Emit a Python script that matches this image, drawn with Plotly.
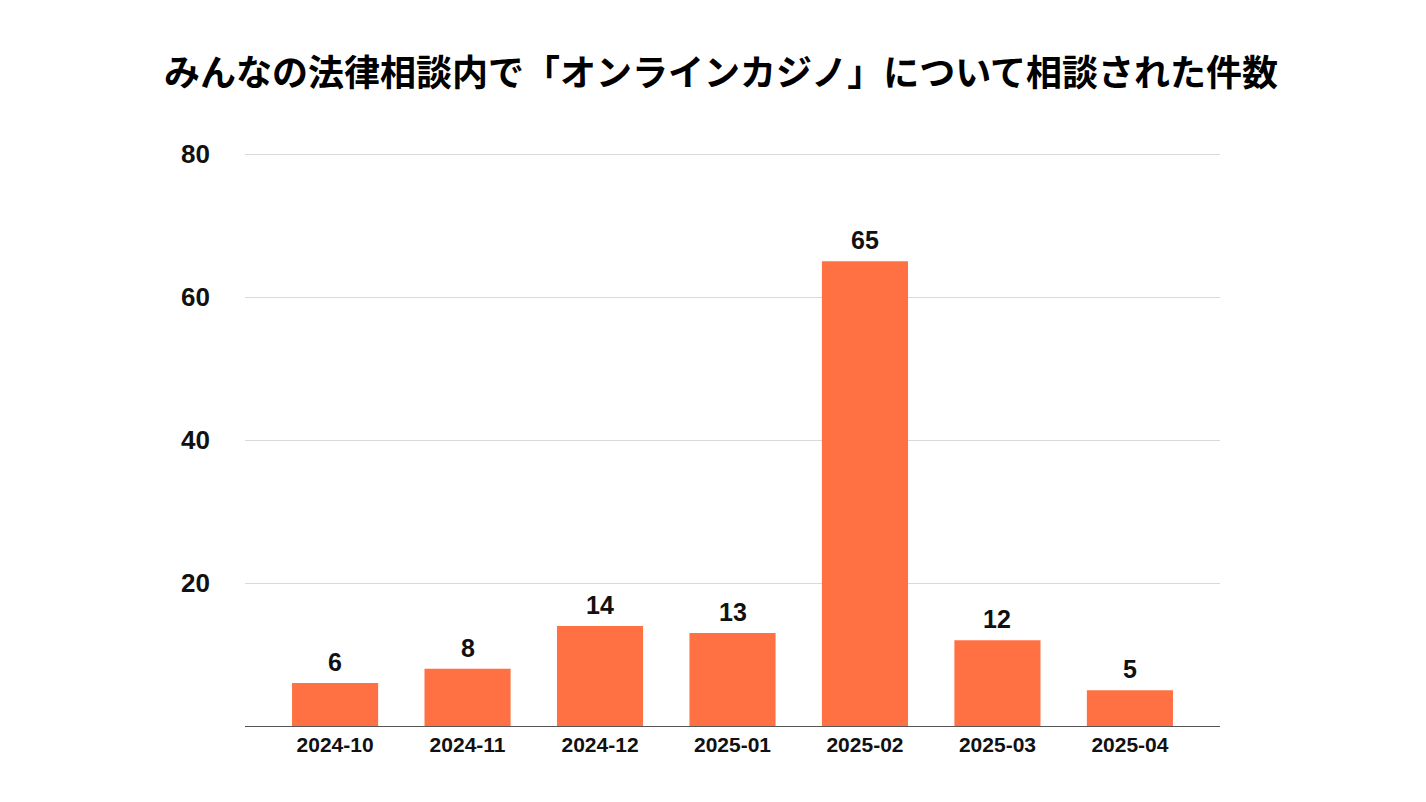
import plotly.graph_objects as go

categories = ["2024-10", "2024-11", "2024-12", "2025-01", "2025-02", "2025-03", "2025-04"]
counts = [6, 8, 14, 13, 65, 12, 5]
y_ticks = [20, 40, 60, 80]
title_text = "みんなの法律相談内で「オンラインカジノ」について相談された件数"

fig = go.Figure(go.Bar(
    x=categories, y=counts,
    marker=dict(color="#FF7043", line=dict(width=0)),
    width=0.65,
    hoverinfo="x+y",
))

for c, v in zip(categories, counts):
    fig.add_annotation(
        x=c, y=v, text="<b>%d</b>" % v, showarrow=False,
        xanchor="center", yanchor="bottom", yshift=5,
        font=dict(family="Liberation Sans, Arial, sans-serif", size=25, color="#111111"),
    )

fig.update_layout(
    width=1426, height=802,
    paper_bgcolor="white", plot_bgcolor="white",
    margin=dict(l=237, r=214, t=139, b=84),
    title=dict(text="<b>" + title_text + "</b>", x=0.5, xanchor="center", y=0.919, yanchor="middle",
               font=dict(family="Noto Sans CJK JP, sans-serif", size=36, color="#000000")),
    showlegend=False,
)
fig.update_xaxes(
    type="category", range=[-0.68, 6.68], showgrid=False, showline=True,
    linecolor="#555555", linewidth=1.2,
    ticks="", tickfont=dict(family="Liberation Sans, Arial, sans-serif", size=21, color="#111111"),
    tickprefix="<b>", ticksuffix="</b>",
)
fig.update_yaxes(
    range=[0, 81], tickvals=y_ticks, ticktext=["<b>%d</b>" % v for v in y_ticks],
    showgrid=True, gridcolor="#d9d9d9", gridwidth=1, zeroline=False, showline=False,
    ticks="", ticklabelstandoff=34,
    tickfont=dict(family="Liberation Sans, Arial, sans-serif", size=26, color="#111111"),
)

fig.write_html("out.html")
